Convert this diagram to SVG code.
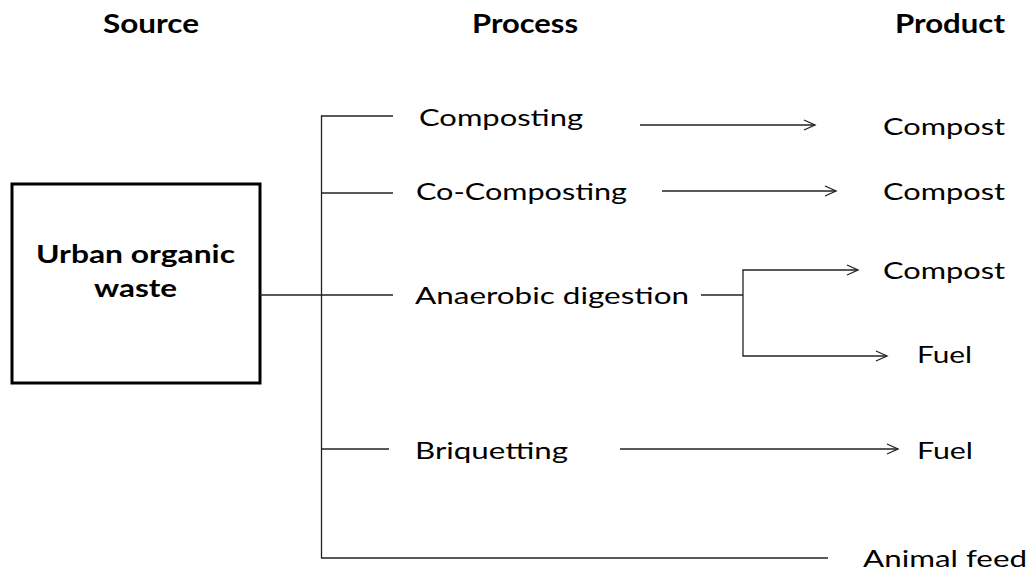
<svg xmlns="http://www.w3.org/2000/svg" width="1032" height="573" viewBox="0 0 1032 573">
  <style>
    .hdr { font-family: Lato, "Liberation Sans", sans-serif; font-weight: bold; font-size: 26px; fill: #000; }
    .box-t { font-family: Lato, "Liberation Sans", sans-serif; font-weight: bold; font-size: 24px; fill: #000; }
    .lbl { font-family: Lato, "Liberation Sans", sans-serif; font-size: 24px; fill: #000; }
    .ln { stroke: #222; stroke-width: 1.3; fill: none; }
    .ar { stroke: #222; stroke-width: 1.3; fill: none; marker-end: url(#arr); }
  </style>
  <defs>
    <marker id="arr" markerUnits="userSpaceOnUse" markerWidth="14" markerHeight="14" refX="12" refY="6" orient="auto">
      <path d="M1,1 L12,6 L1,11" fill="none" stroke="#222" stroke-width="1.3"/>
    </marker>
  </defs>
  <rect width="1032" height="573" fill="#fff"/>

  <g id="headers">
    <text class="hdr" x="103" y="33" textLength="96" lengthAdjust="spacingAndGlyphs">Source</text>
    <text class="hdr" x="472" y="33" textLength="106" lengthAdjust="spacingAndGlyphs">Process</text>
    <text class="hdr" x="895" y="33" textLength="110" lengthAdjust="spacingAndGlyphs">Product</text>
  </g>

  <g id="source">
    <rect x="12" y="184" width="248" height="199" fill="#fff" stroke="#000" stroke-width="3"/>
    <text class="box-t" x="36" y="263" textLength="199" lengthAdjust="spacingAndGlyphs">Urban organic</text>
    <text class="box-t" x="94" y="297" textLength="83" lengthAdjust="spacingAndGlyphs">waste</text>
  </g>

  <g id="connectors">
    <line class="ln" x1="321.5" y1="115.5" x2="321.5" y2="558"/>
    <line class="ln" x1="321" y1="116" x2="393" y2="116"/>
    <line class="ln" x1="321" y1="193" x2="393" y2="193"/>
    <line class="ln" x1="260" y1="295" x2="393" y2="295"/>
    <line class="ln" x1="321" y1="449" x2="389" y2="449"/>
    <line class="ln" x1="321" y1="558" x2="828" y2="558"/>
    <line class="ar" x1="640" y1="125" x2="815" y2="125"/>
    <line class="ar" x1="662" y1="191" x2="836" y2="191"/>
    <line class="ln" x1="701" y1="295" x2="743" y2="295"/>
    <line class="ln" x1="743" y1="270" x2="743" y2="356"/>
    <line class="ar" x1="742.4" y1="270" x2="858" y2="270"/>
    <line class="ar" x1="742.4" y1="356" x2="887" y2="356"/>
    <line class="ar" x1="620" y1="449" x2="898" y2="449"/>
  </g>

  <g id="p-composting"><text class="lbl" x="419" y="126" textLength="164" lengthAdjust="spacingAndGlyphs">Composting</text></g>
  <g id="p-cocomposting"><text class="lbl" x="416" y="200" textLength="211" lengthAdjust="spacingAndGlyphs">Co-Composting</text></g>
  <g id="p-anaerobic"><text class="lbl" x="415" y="304" textLength="274" lengthAdjust="spacingAndGlyphs">Anaerobic digestion</text></g>
  <g id="p-briquetting"><text class="lbl" x="415" y="459" textLength="153" lengthAdjust="spacingAndGlyphs">Briquetting</text></g>

  <g id="out-compost-1"><text class="lbl" x="883" y="135" textLength="122" lengthAdjust="spacingAndGlyphs">Compost</text></g>
  <g id="out-compost-2"><text class="lbl" x="883" y="200" textLength="122" lengthAdjust="spacingAndGlyphs">Compost</text></g>
  <g id="out-compost-3"><text class="lbl" x="883" y="279" textLength="122" lengthAdjust="spacingAndGlyphs">Compost</text></g>
  <g id="out-fuel-1"><text class="lbl" x="917" y="363" textLength="55" lengthAdjust="spacingAndGlyphs">Fuel</text></g>
  <g id="out-fuel-2"><text class="lbl" x="917" y="459" textLength="56" lengthAdjust="spacingAndGlyphs">Fuel</text></g>
  <g id="out-animal-feed"><text class="lbl" x="863" y="567" textLength="164" lengthAdjust="spacingAndGlyphs">Animal feed</text></g>
</svg>
